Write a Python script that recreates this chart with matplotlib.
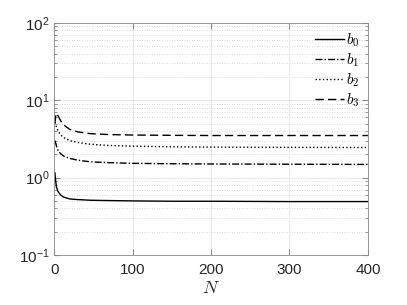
import numpy as np
import matplotlib
matplotlib.use("Agg")
import matplotlib.pyplot as plt
from matplotlib.ticker import LogLocator, NullFormatter

# values
N = [1, 2, 3, 5, 8, 12, 20, 30, 46, 70, 100, 150, 200, 300, 400]
b0 = [1.15, 0.9, 0.75, 0.66, 0.6, 0.56, 0.53, 0.52, 0.51, 0.505, 0.5, 0.495, 0.495, 0.49, 0.49]
b1 = [3.0, 2.8, 2.55, 2.25, 2.05, 1.9, 1.77, 1.68, 1.6, 1.56, 1.53, 1.51, 1.5, 1.49, 1.48]
b2 = [5.2, 4.9, 4.5, 4.0, 3.6, 3.3, 3.0, 2.85, 2.7, 2.6, 2.55, 2.5, 2.48, 2.46, 2.45]
b3 = [5.0, 6.2, 6.8, 6.3, 5.5, 4.8, 4.2, 3.9, 3.7, 3.6, 3.55, 3.52, 3.5, 3.5, 3.5]
labels = [r"$b_0$", r"$b_1$", r"$b_2$", r"$b_3$"]

plt.rcParams["font.family"] = ["Liberation Sans", "DejaVu Sans"]
plt.rcParams["mathtext.fontset"] = "cm"

fig = plt.figure(figsize=(4.07, 3.05), dpi=100)
ax = fig.add_axes([0.133, 0.164, 0.771, 0.761])

styles = ["-", (0, (5, 1.5, 1, 1.5)), ":", (0, (6, 3))]
for y, ls, lab in zip([b0, b1, b2, b3], styles, labels):
    ax.plot(N, y, color="k", linestyle=ls, linewidth=1.0, label=lab)

ax.set_yscale("log")
ax.set_xlim(0, 400)
ax.set_ylim(0.1, 100)
ax.set_xticks([0, 100, 200, 300, 400])
ax.yaxis.set_major_locator(LogLocator(base=10, numticks=10))
ax.yaxis.set_minor_locator(LogLocator(base=10, subs=np.arange(2, 10), numticks=20))
ax.yaxis.set_minor_formatter(NullFormatter())

ax.grid(True, which="major", color="#e3e3e3", linestyle="-", linewidth=0.6)
ax.grid(True, which="minor", axis="y", color="#d0d0d0", linestyle=(0, (1, 2)), linewidth=0.6)
ax.set_axisbelow(True)

for s in ax.spines.values():
    s.set_color("#8c8c8c")
    s.set_linewidth(0.6)
ax.tick_params(which="both", direction="in", top=True, right=True, colors="#8c8c8c",
               labelcolor="#262626", labelsize=11)
ax.tick_params(which="major", length=4)
ax.tick_params(which="minor", length=2)
ax.tick_params(axis="x", pad=6)

ax.set_xlabel(r"$N$", fontsize=13, color="#262626", labelpad=2)

leg = ax.legend(loc="upper right", frameon=False, fontsize=11, handlelength=1.9,
                handletextpad=0.15, labelspacing=0.15, borderaxespad=0.2,
                borderpad=0.35)

fig.savefig("out.png", dpi=100)
